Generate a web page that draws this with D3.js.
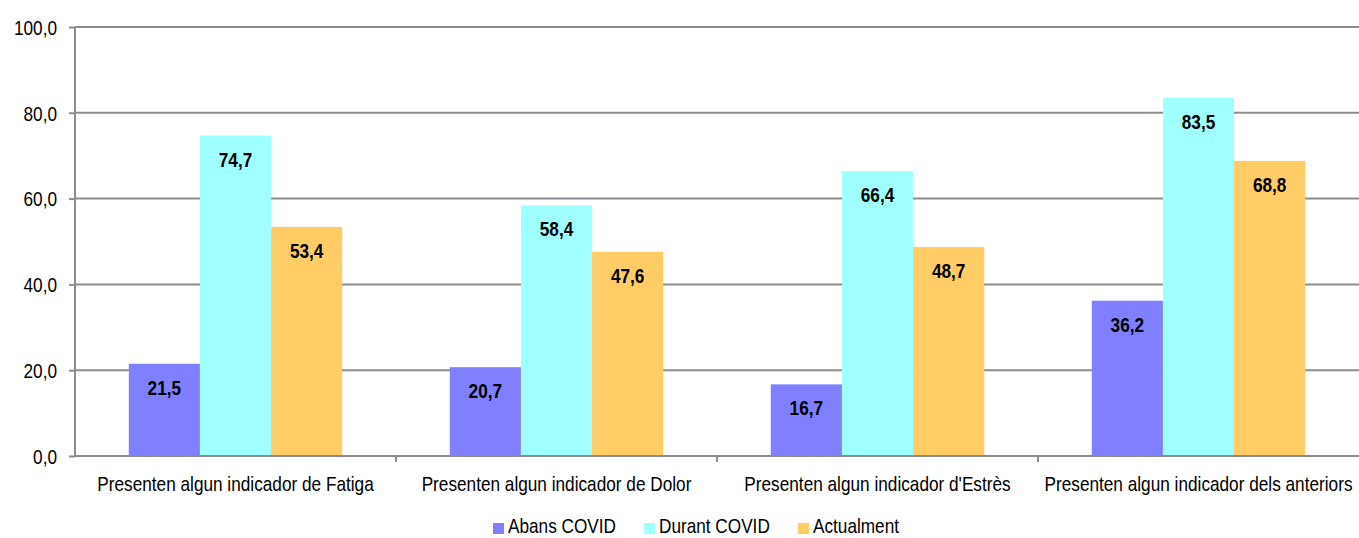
<!DOCTYPE html>
<html><head><meta charset="utf-8">
<script src="https://cdn.jsdelivr.net/npm/d3@7"></script>
<style>
body{margin:0;background:#fff;}
svg{display:block;}
text{font-family:"Liberation Sans",Arial,sans-serif;}
</style></head>
<body><svg id="c" width="1359" height="538"></svg>
<script>
const categories = ["Presenten algun indicador de Fatiga","Presenten algun indicador de Dolor","Presenten algun indicador d'Estrès","Presenten algun indicador dels anteriors"];
const seriesNames = ["Abans COVID","Durant COVID","Actualment"];
const abans = [21.5, 20.7, 16.7, 36.2];
const durant = [74.7, 58.4, 66.4, 83.5];
const actualment = [53.4, 47.6, 48.7, 68.8];
const yTicks = [0, 20, 40, 60, 80, 100];
const colors = ["#8080FF", "#A0FFFF", "#FFCC66"];

const series = [abans, durant, actualment];
const svg = d3.select("#c");
const pLeft = 75, pRight = 1359, pTop = 27, pBottom = 456;
const SX = 0.82; // narrow font emulation
const x = d3.scaleBand().domain(categories).range([pLeft, pRight]).paddingInner(0).paddingOuter(0);
const x1 = d3.scaleBand().domain(seriesNames).range([0, x.bandwidth()]).paddingInner(0).paddingOuter(0.756);
const y = d3.scaleLinear().domain([0, 100]).range([pBottom, pTop]);
const fmt = v => d3.format(".1f")(v).replace(".", ",");
const place = (px, py, s) => `translate(${px},${py}) scale(${s || SX},1)`;

// gridlines
svg.append("g").selectAll("line").data(yTicks.filter(t => t > 0)).join("line")
  .attr("x1", pLeft).attr("x2", pRight).attr("y1", d => y(d)).attr("y2", d => y(d))
  .attr("stroke", "#8c8c8c").attr("stroke-width", 2);

// bars
const groups = svg.append("g").selectAll("g").data(categories).join("g")
  .attr("transform", d => `translate(${x(d)},0)`);
groups.each(function(cat, ci) {
  const g = d3.select(this);
  seriesNames.forEach((s, si) => {
    const v = series[si][ci];
    g.append("rect").attr("x", x1(s)).attr("width", x1.bandwidth())
      .attr("y", y(v)).attr("height", y(0) - y(v)).attr("fill", colors[si]);
    g.append("text").attr("transform", place(x1(s) + x1.bandwidth() / 2, y(v) + 31))
      .attr("text-anchor", "middle").attr("font-weight", "bold").attr("font-size", 21)
      .attr("fill", "#000").text(fmt(v));
  });
});

// y axis
const yAxis = d3.axisLeft(y).tickValues(yTicks).tickSize(6).tickPadding(12).tickFormat(fmt);
const ya = svg.append("g").attr("transform", `translate(${pLeft},0)`).call(yAxis);
ya.select(".domain").attr("stroke", "#8c8c8c").attr("stroke-width", 2).attr("d", `M0,${pBottom}V${pTop}`);
ya.selectAll(".tick line").attr("stroke", "#8c8c8c").attr("stroke-width", 2);
ya.selectAll(".tick text").attr("font-size", 21).attr("fill", "#000")
  .attr("font-family", '"Liberation Sans",Arial,sans-serif')
  .attr("x", null).attr("dy", "0.35em").attr("transform", place(-18, 0));

// x axis
const xa = svg.append("g").attr("transform", `translate(0,${pBottom})`);
xa.append("line").attr("x1", pLeft).attr("x2", pRight).attr("stroke", "#8c8c8c").attr("stroke-width", 2);
const bounds = categories.map(c => x(c)).slice(1);
xa.selectAll(".xt").data(bounds).join("line").attr("class", "xt")
  .attr("x1", d => d).attr("x2", d => d).attr("y1", 0).attr("y2", 6)
  .attr("stroke", "#8c8c8c").attr("stroke-width", 2);
xa.selectAll(".xl").data(categories).join("text").attr("class", "xl")
  .attr("transform", d => place(x(d) + x.bandwidth() / 2, 35))
  .attr("text-anchor", "middle").attr("font-size", 21).attr("fill", "#000").text(d => d);

// legend
const legX = [493, 644, 798];
const leg = svg.append("g").selectAll("g").data(seriesNames).join("g")
  .attr("transform", (d, i) => `translate(${legX[i]},0)`);
leg.append("rect").attr("x", 0).attr("y", 523).attr("width", 11).attr("height", 11)
  .attr("fill", (d, i) => colors[i]);
leg.append("text").attr("transform", place(15, 533, 0.86)).attr("font-size", 20).attr("fill", "#000").text(d => d);
</script></body></html>
